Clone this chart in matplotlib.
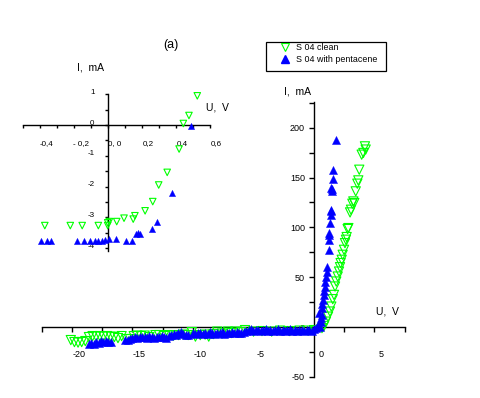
import matplotlib
matplotlib.use("Agg")
import matplotlib.pyplot as plt
from matplotlib.lines import Line2D
from matplotlib.patches import Rectangle
from matplotlib.ticker import FixedLocator
from matplotlib.transforms import ScaledTranslation

plt.rcParams['font.family'] = ['Liberation Sans', 'DejaVu Sans']

GREEN = '#00ff00'
BLUE = '#0000ff'

# ---------------- main plot data ----------------
clean_rev_u = [-20.1, -19.8, -19.5, -19.2, -18.9, -18.6, -18.3, -18.0, -17.7, -17.4,
               -17.1, -16.8, -16.5, -16.2, -15.9, -15.5, -15.2, -14.9, -14.6, -14.3,
               -14.0, -13.6, -13.1, -12.8, -12.4, -12.0, -11.6, -11.2, -10.8, -10.4,
               -10.1, -9.8, -9.4, -9.0, -8.7, -8.3, -8.0, -7.6, -7.1, -6.8,
               -6.5, -6.0, -5.7, -5.0, -4.3, -3.5, -2.8, -2.0, -1.2, -0.5, 0.0]
clean_rev_i = [-13, -15, -15.5, -15, -14, -10, -9, -9.5, -9, -9.5,
               -9, -9.5, -10, -11, -9, -12, -12, -9, -8.5, -9,
               -8.5, -10, -8, -8, -9, -8, -8.5, -8, -7.5, -8,
               -5, -9.5, -8, -7.5, -9.5, -7, -4.5, -6.5, -4.5, -6,
               -4.5, -5, -3, -4.5, -4, -4.5, -3.5, -4, -3.5, -3.5, -3]
clean_fwd_u = [0.66, 0.83, 0.99, 1.16, 1.32, 1.43, 1.55, 1.65, 1.74, 1.84,
               1.96, 2.07, 2.15, 2.2, 2.29, 2.37, 2.48, 2.56, 2.64, 2.7,
               2.78, 2.84, 2.98, 3.06, 3.17, 3.25, 3.33, 3.45, 3.58, 3.66,
               3.74, 3.94, 4.08, 4.21, 4.27]
clean_fwd_i = [-1, 1.2, 5.5, 10.5, 15.6, 20.6, 28, 32.3, 40.7, 45.7,
               50.7, 55.7, 60.1, 64.2, 67.5, 72.5, 77.5, 84.2, 87.6, 90.3,
               98.3, 99.3, 115, 117.7, 123.7, 126, 124.4, 136.1, 143.8, 147.1,
               157.8, 172.9, 174.6, 181.2, 178]

pent_rev_u = [-18.6, -18.4, -18.2, -18.0, -17.8, -17.6, -17.4, -17.2, -17.0, -16.8,
              -15.6, -15.4, -15.2, -15.0, -14.8, -14.6, -14.4, -14.2, -14.0, -13.8,
              -13.6, -13.4, -13.2, -13.0, -12.8, -12.6, -12.4, -12.2, -12.0,
              -11.8, -11.6, -11.4, -11.2, -11.0, -10.8, -10.6, -10.4,
              -10.0, -9.8, -9.6, -9.4, -9.2, -9.0, -8.8, -8.6, -8.4, -8.2,
              -8.0, -7.8, -7.6, -7.4, -7.2, -7.0, -6.8, -6.6, -6.4, -6.2,
              -6.0, -5.8, -5.6, -5.4, -5.2, -5.0, -4.8, -4.6, -4.4, -4.2,
              -4.0, -3.8, -3.6, -3.4, -3.2, -3.0, -2.8, -2.6, -2.4, -2.2,
              -2.0, -1.8, -1.6, -1.4, -1.2, -1.0, -0.8, -0.6, -0.4, -0.2, 0.0]
pent_rev_i = [-17, -16, -17, -15, -16, -14, -15, -14, -15, -15,
              -13, -12.5, -12, -10.5, -10, -11, -10, -9.5, -10, -10.5,
              -9, -10, -10.5, -9.5, -10, -9, -10, -10.5, -9,
              -8, -7, -7.5, -6, -5, -7, -7.5, -8,
              -6, -7, -6, -5.5, -6.5, -6, -7, -5, -6, -6.5,
              -5.5, -6, -5, -6.5, -5.5, -6, -5, -6, -4.5, -5.5,
              -6, -5, -4, -3, -2, -4, -3, -2.5, -4, -3,
              -2, -3.5, -2.5, -4, -3, -2, -3.5, -2.5, -4, -3,
              -2, -3.5, -3, -4, -2.5, -3, -3.5, -2.5, -3, -3.5, -2]
pent_fwd_u = [0.2, 0.35, 0.45, 0.5, 0.55, 0.6, 0.66, 0.66, 0.7, 0.72,
              0.8, 0.85, 0.91, 0.94, 0.99, 1.07, 1.1, 1.24, 1.27, 1.24,
              1.27, 1.32, 1.38, 1.4, 1.42, 1.46, 1.46, 1.4, 1.6, 1.6, 1.79]
pent_fwd_i = [-1, 2, 14, 0.5, 5, 9, 12, 19, 23, 27.3,
              32.3, 36, 40.7, 45.7, 50.7, 55.7, 60, 77.5, 87.6, 92.6,
              94.3, 104.3, 116, 117.7, 112.6, 136.7, 138.5, 139.4, 148.5, 157.8, 188]

# ---------------- inset data ----------------
in_clean_u = [-0.37, -0.22, -0.15, -0.055, 0.0, 0.0, 0.01, 0.053, 0.096, 0.15,
              0.16, 0.22, 0.265, 0.30, 0.35, 0.42, 0.445, 0.478, 0.527]
in_clean_i = [-3.27, -3.27, -3.27, -3.27, -3.18, -3.27, -3.14, -3.14, -3.03, -3.06,
              -2.95, -2.79, -2.49, -1.95, -1.54, -0.78, 0.05, 0.31, 0.95]
in_pent_u = [-0.39, -0.355, -0.335, -0.18, -0.14, -0.104, -0.075, -0.055, -0.035, -0.015,
             0.008, 0.05, 0.11, 0.14, 0.167, 0.18, 0.19, 0.26, 0.29, 0.38, 0.49]
in_pent_i = [-3.77, -3.77, -3.77, -3.77, -3.77, -3.77, -3.77, -3.77, -3.77, -3.74,
             -3.71, -3.71, -3.77, -3.77, -3.54, -3.5, -3.55, -3.39, -3.14, -2.22, -0.02]

main_xticks = [-20, -15, -10, -5, 0, 5]
main_xminor = [-22.5, -17.5, -12.5, -7.5, -2.5, 2.5, 7.5]
main_yticks = [-50, 0, 50, 100, 150, 200]
main_yminor = [-25, 25, 75, 125, 175, 225]
in_xticks = [-0.4, -0.2, 0.0, 0.2, 0.4, 0.6]
in_xlabels = ['-0,4', '- 0,2', '0, 0', '0,2', '0,4', '0,6']
in_xminor = [-0.5, -0.3, -0.1, 0.1, 0.3, 0.5]
in_yticks = [1, 0, -1, -2, -3, -4]
in_yminor = [0.5, -0.5, -1.5, -2.5, -3.5]
legend_labels = ['S 04 clean', 'S 04 with pentacene']

W, H = 481, 398
fig = plt.figure(figsize=(W / 100, H / 100), dpi=100)


def frac(x0, y0, x1, y1):
    return [x0 / W, 1 - y1 / H, (x1 - x0) / W, (y1 - y0) / H]


def style_axes(ax):
    ax.set_facecolor('none')
    for s in ['top', 'right']:
        ax.spines[s].set_visible(False)
    ax.spines['left'].set_position(('data', 0))
    ax.spines['bottom'].set_position(('data', 0))
    for s in ['left', 'bottom']:
        ax.spines[s].set_linewidth(1.0)


# main axes
ax = fig.add_axes(frac(41.75, 101.7, 404.75, 377.0))
style_axes(ax)
ax.set_xlim(-22.5, 7.5)
ax.set_ylim(-50, 226)
ax.scatter(clean_rev_u + clean_fwd_u, clean_rev_i + clean_fwd_i, marker='v', s=44,
           facecolors='none', edgecolors=GREEN, linewidths=0.8, zorder=3, clip_on=False)
ax.scatter(pent_rev_u + pent_fwd_u, pent_rev_i + pent_fwd_i, marker='^', s=34,
           facecolors=BLUE, edgecolors=BLUE, linewidths=0.3, zorder=4, clip_on=False)
ax.xaxis.set_major_locator(FixedLocator(main_xticks))
ax.xaxis.set_minor_locator(FixedLocator(main_xminor))
ax.yaxis.set_major_locator(FixedLocator(main_yticks))
ax.yaxis.set_minor_locator(FixedLocator(main_yminor))
ax.set_xticklabels([str(v) for v in main_xticks])
ax.set_yticklabels([str(v) for v in main_yticks])
ax.tick_params(which='both', direction='out', length=3.5, width=1.0)
ax.tick_params(axis='x', pad=13, labelsize=6.5)
ax.tick_params(axis='y', pad=3, labelsize=6.5)
off = ScaledTranslation(7 / 100, 0, fig.dpi_scale_trans)
for lab in ax.get_xticklabels():
    lab.set_transform(lab.get_transform() + off)
fig.text(376 / W, 1 - 312 / H, 'U,  V', fontsize=7.5, va='center', ha='left')
fig.text(284 / W, 1 - 91 / H, 'I,  mA', fontsize=7.5, va='center', ha='left')

# inset axes
axi = fig.add_axes(frac(22.7, 94.3, 209.7, 251.1))
style_axes(axi)
axi.set_xlim(-0.5, 0.6)
axi.set_ylim(-4.1, 1.0)
axi.scatter(in_clean_u, in_clean_i, marker='v', s=22, facecolors='none',
            edgecolors=GREEN, linewidths=0.8, zorder=3, clip_on=False)
axi.scatter(in_pent_u, in_pent_i, marker='^', s=20, facecolors=BLUE,
            edgecolors=BLUE, linewidths=0.3, zorder=4, clip_on=False)
axi.xaxis.set_major_locator(FixedLocator(in_xticks))
axi.xaxis.set_minor_locator(FixedLocator(in_xminor))
axi.yaxis.set_major_locator(FixedLocator(in_yticks))
axi.yaxis.set_minor_locator(FixedLocator(in_yminor))
axi.set_xticklabels(in_xlabels)
axi.set_yticklabels([str(v) for v in in_yticks])
axi.tick_params(which='both', direction='out', length=2.5, width=1.0)
axi.tick_params(axis='x', pad=8, labelsize=5.8)
axi.tick_params(axis='y', pad=7, labelsize=5.8)
offi = ScaledTranslation(7 / 100, 0, fig.dpi_scale_trans)
for lab in axi.get_xticklabels():
    lab.set_transform(lab.get_transform() + offi)
offy = ScaledTranslation(0, 3 / 100, fig.dpi_scale_trans)
for lab in axi.get_yticklabels():
    lab.set_transform(lab.get_transform() + offy)
fig.text(206 / W, 1 - 108 / H, 'U,  V', fontsize=7.5, va='center', ha='left')
fig.text(77 / W, 1 - 67 / H, 'I,  mA', fontsize=7.5, va='center', ha='left')

fig.text(171 / W, 1 - 45 / H, '(a)', fontsize=9, va='center', ha='center')

# legend: frame drawn as rectangle, entries without frame
fig.patches.append(Rectangle((266 / W, 1 - 70.7 / H), (385.7 - 266) / W, (70.7 - 41.7) / H,
                             transform=fig.transFigure, fill=False, edgecolor='black',
                             linewidth=0.9))
handles = [Line2D([], [], marker='v', ls='none', mfc='none', mec=GREEN, mew=0.8, ms=6.2),
           Line2D([], [], marker='^', ls='none', mfc=BLUE, mec=BLUE, ms=5.8)]
leg = fig.legend(handles, legend_labels,
                 loc='upper left', bbox_to_anchor=(280.5 / W, 1 - 43.5 / H),
                 bbox_transform=fig.transFigure, borderaxespad=0, borderpad=0,
                 fontsize=6.4, frameon=False, handlelength=1.0, handletextpad=0.8,
                 labelspacing=0.25)

fig.savefig('out.png', dpi=100)
